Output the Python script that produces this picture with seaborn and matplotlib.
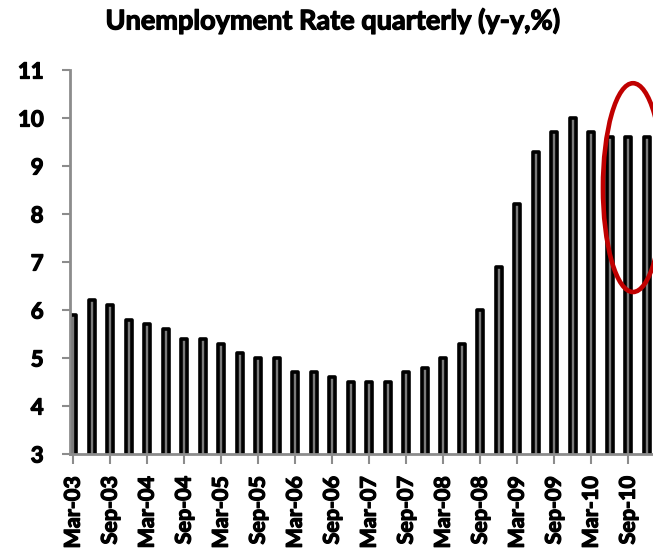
import pandas as pd
import matplotlib.pyplot as plt
import matplotlib.patheffects as pe
import seaborn as sns
from matplotlib.patches import Ellipse

# Datos trimestrales (tasa de desempleo, %)
quarters = [f"{m}-{y:02d}" for y in range(3, 11) for m in ["Mar", "Jun", "Sep", "Dec"]]
rate = [5.9, 6.2, 6.1, 5.8, 5.7, 5.6, 5.4, 5.4,
        5.3, 5.1, 5.0, 5.0, 4.7, 4.7, 4.6, 4.5,
        4.5, 4.5, 4.7, 4.8, 5.0, 5.3, 6.0, 6.9,
        8.2, 9.3, 9.7, 10.0, 9.7, 9.6, 9.6, 9.6]
tick_labels = quarters[::2]

df = pd.DataFrame({"quarter": quarters, "rate": rate})

sns.set_style("white")
plt.rcParams["font.family"] = ["Lato", "DejaVu Sans"]
plt.rcParams["text.color"] = "black"
plt.rcParams["xtick.labelcolor"] = "black"
plt.rcParams["ytick.labelcolor"] = "black"

fig = plt.figure(figsize=(6.53, 5.53), dpi=100)
ax = fig.add_axes([0.1072, 0.179, 0.8928, 0.6944])

sns.barplot(data=df, x="quarter", y="rate", color="#7a7a7a", edgecolor="black",
            linewidth=2.6, width=0.33, saturation=1, ax=ax)
for p in ax.patches:
    p.set_joinstyle("round")

# trazo extra para que el texto se vea más grueso
grueso = [pe.withStroke(linewidth=0.9, foreground="black")]

ax.set_ylim(3, 11)
ax.set_xlim(-0.17, 31.34)
ax.set_yticks(range(3, 12))
ax.set_xticks(range(0, len(quarters), 2))
ax.set_xticklabels(tick_labels, rotation=90, fontweight="bold", fontsize=15.5)
ax.set_yticklabels([str(v) for v in range(3, 12)], fontweight="bold", fontsize=16)
for t in ax.get_xticklabels() + ax.get_yticklabels():
    t.set_path_effects(grueso)
ax.set_xlabel("")
ax.set_ylabel("")

for s in ["top", "right"]:
    ax.spines[s].set_visible(False)
for s in ["left", "bottom"]:
    ax.spines[s].set_color("#8c8c8c")
    ax.spines[s].set_linewidth(2)
ax.tick_params(axis="y", direction="out", length=6, width=1.5, color="#8c8c8c", pad=13, left=True)
ax.tick_params(axis="x", direction="out", length=7, width=1.5, color="#8c8c8c", pad=9, bottom=True)

# Círculo rojo sobre los últimos trimestres
ax.add_patch(Ellipse((30.26, 8.55), 3.25, 4.35, fill=False, edgecolor="#c00000",
                     linewidth=3.3, clip_on=False))

fig.text(0.51, 0.962, "Unemployment Rate quarterly (y-y,%)", ha="center", va="center",
         fontsize=19.5, fontweight="bold", path_effects=grueso)

fig.savefig("out.png", dpi=100)
